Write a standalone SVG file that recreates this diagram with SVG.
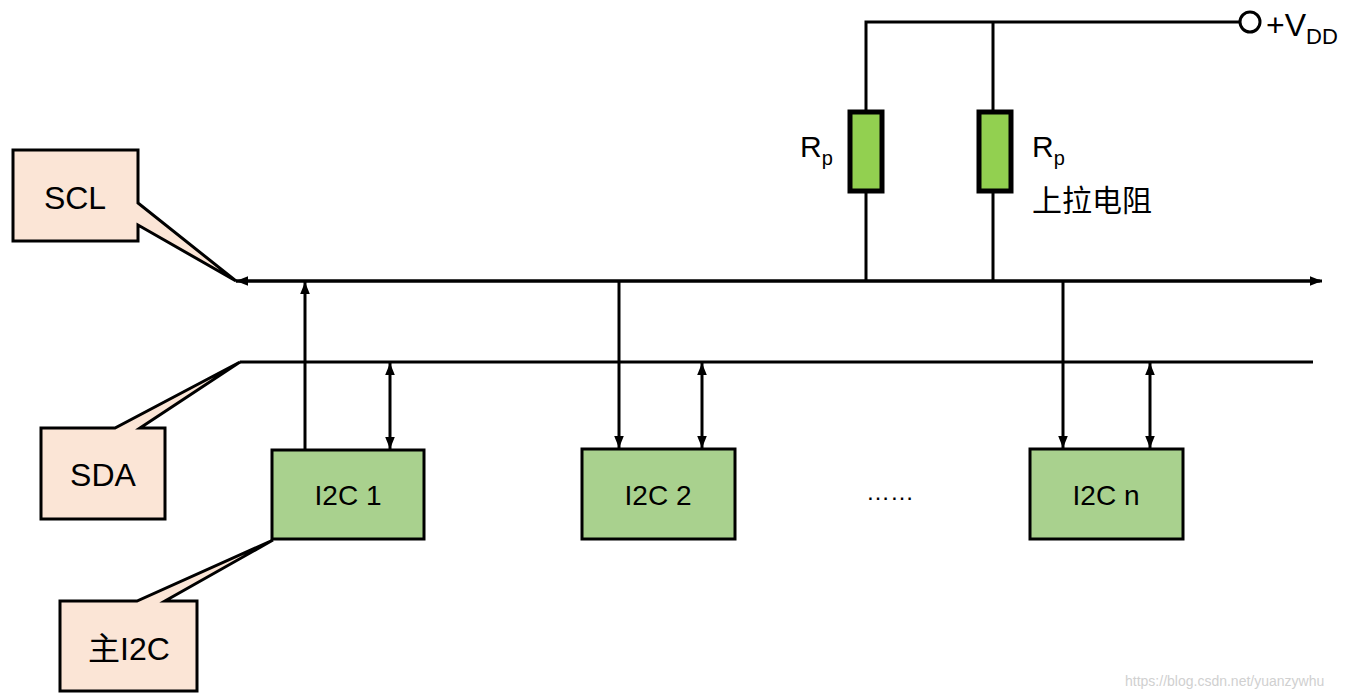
<svg xmlns="http://www.w3.org/2000/svg" width="1359" height="698" viewBox="0 0 1359 698">
<defs>
<marker id="ah" viewBox="0 0 10 10" refX="10" refY="5" markerWidth="4" markerHeight="4" orient="auto-start-reverse" markerUnits="strokeWidth"><path d="M0,1 L10,5 L0,9 z" fill="#000"/></marker>
<style>
.w{stroke:#000;stroke-width:3;fill:none}
.box{fill:#a9d18e;stroke:#000;stroke-width:3}
.call{fill:#fbe5d6;stroke:#000;stroke-width:3;stroke-linejoin:miter}
.res{fill:#92d050;stroke:#000;stroke-width:5}
text{font-family:"Liberation Sans","Noto Sans CJK SC",sans-serif;fill:#000}
.t{font-size:32px;text-anchor:middle}
.n{font-size:28px;text-anchor:middle}
</style>
</defs>
<rect width="1359" height="698" fill="#fff"/>
<g id="connectors">
<line class="w" x1="1320" y1="281" x2="236" y2="281" marker-end="url(#ah)"/>
<line class="w" x1="236" y1="281" x2="1322" y2="281" marker-end="url(#ah)"/>
<line class="w" x1="240" y1="362" x2="1313" y2="362"/>
<line class="w" x1="305" y1="450" x2="305" y2="282" marker-end="url(#ah)"/>
<line class="w" x1="390" y1="363" x2="390" y2="449" marker-start="url(#ah)" marker-end="url(#ah)"/>
<line class="w" x1="619" y1="281" x2="619" y2="448" marker-end="url(#ah)"/>
<line class="w" x1="702" y1="363" x2="702" y2="448" marker-start="url(#ah)" marker-end="url(#ah)"/>
<line class="w" x1="1063" y1="281" x2="1063" y2="448" marker-end="url(#ah)"/>
<line class="w" x1="1150" y1="363" x2="1150" y2="448" marker-start="url(#ah)" marker-end="url(#ah)"/>
<polyline class="w" points="866,281 866,22 1240,22"/>
<line class="w" x1="993" y1="22" x2="993" y2="281"/>
<circle cx="1250" cy="22" r="10" fill="#fff" stroke="#000" stroke-width="3"/>
</g>
<g id="r1"><rect class="res" x="850" y="112" width="32" height="79"/></g>
<g id="r2"><rect class="res" x="979" y="112" width="32" height="79"/></g>
<text x="800" y="157" font-size="30">R<tspan font-size="20" dy="8">p</tspan></text>
<text x="1032" y="157" font-size="30">R<tspan font-size="20" dy="8">p</tspan></text>
<text x="1032" y="211" font-size="30">上拉电阻</text>
<text x="1266" y="36" font-size="32">+V<tspan font-size="22" dy="8">DD</tspan></text>
<g id="scl"><path class="call" d="M13,150 H138 V203 L236,281 L138,225 V241 H13 Z"/><text class="t" x="75" y="209">SCL</text></g>
<g id="sda"><path class="call" d="M41,428 H115 L240,362 L140,428 H165 V519 H41 Z"/><text class="t" x="103" y="486">SDA</text></g>
<g id="master"><path class="call" d="M60,601 H137 L273,540 L165,601 H197 V691 H60 Z"/><text class="t" x="129" y="660">主I2C</text></g>
<g id="n1"><rect class="box" x="272" y="450" width="152" height="89"/><text class="n" x="348" y="505">I2C 1</text></g>
<g id="n2"><rect class="box" x="582" y="449" width="153" height="90"/><text class="n" x="658" y="505">I2C 2</text></g>
<g id="nn"><rect class="box" x="1030" y="449" width="153" height="90"/><text class="n" x="1106" y="505">I2C n</text></g>
<text x="866" y="500" font-size="24">……</text>
<text x="1125" y="686" font-size="14" fill="#ccc" style="fill:#d0d0d0">https://blog.csdn.net/yuanzywhu</text>
</svg>
